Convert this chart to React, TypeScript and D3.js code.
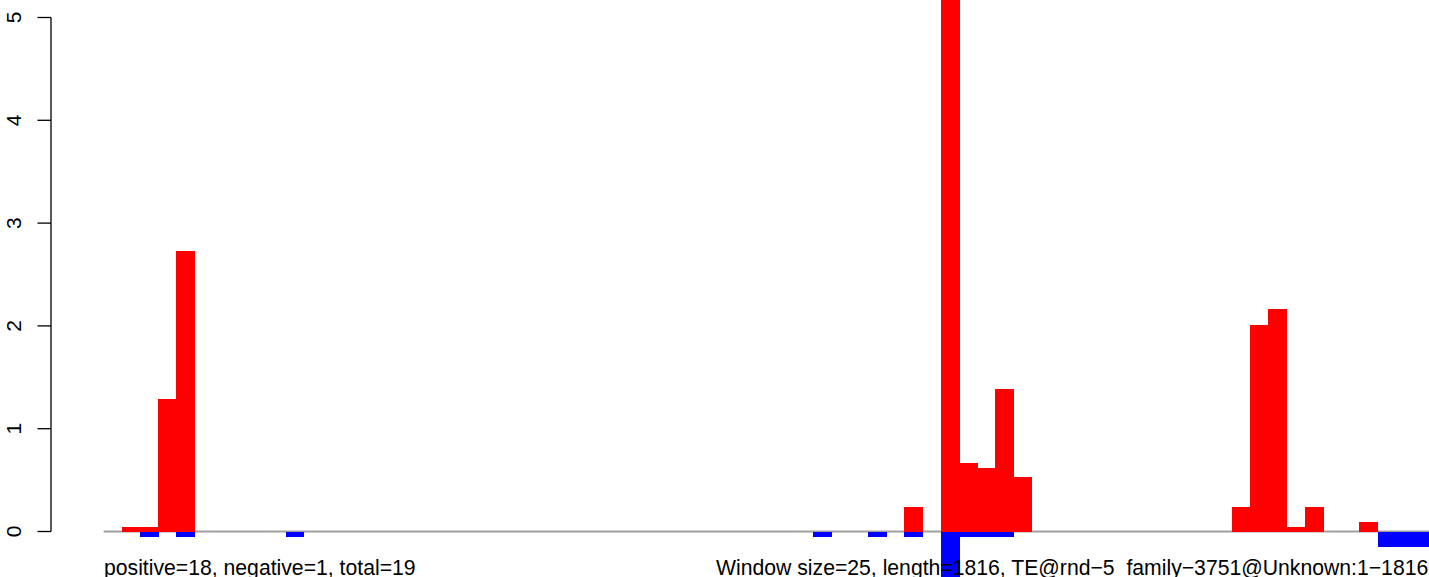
import React from "react";
import * as d3 from "d3";

const WIDTH = 1429;
const HEIGHT = 577;
const windowSize = 25;
const nBins = 73;

// bins (index of 25-bp window) with positive (red) scores
const posBins = [1, 2, 3, 4, 44, 46, 47, 48, 49, 50, 62, 63, 64, 65, 66, 69];
const posValues = [0.04, 0.04, 1.29, 2.73, 0.235, 5.6, 0.67, 0.62, 1.39, 0.53, 0.235, 2.01, 2.16, 0.04, 0.235, 0.09];

// bins with negative (blue) scores, as magnitudes below zero
const negBins = [2, 4, 10, 39, 42, 44, 46, 47, 48, 49, 70, 71, 72];
const negValues = [0.05, 0.05, 0.05, 0.05, 0.05, 0.05, 0.6, 0.05, 0.05, 0.05, 0.15, 0.15, 0.15];

const yTicks = [0, 1, 2, 3, 4, 5];
const leftLabel = "positive=18, negative=1, total=19";
const rightLabel = "Window size=25, length=1816, TE@rnd\u22125_family\u22123751@Unknown:1\u22121816";

const FONT = "'Liberation Sans', Arial, Helvetica, sans-serif";

export default function App() {
  const x = d3.scaleLinear().domain([0, nBins * windowSize]).range([103.6, 103.6 + nBins * 18.2]);
  const y = d3.scaleLinear().domain([0, 5]).range([531.5, 17.5]);
  const y0 = y(0);

  return (
    <svg
      width={WIDTH}
      height={HEIGHT}
      style={{ position: "absolute", left: 0, top: 0, background: "#fff" }}
    >
      <rect x={0} y={0} width={WIDTH} height={HEIGHT} fill="#fff" />
      {/* baseline */}
      <line x1={x(0)} x2={x(nBins * windowSize)} y1={y0} y2={y0} stroke="#a0a0a0" strokeWidth={2} />
      {/* positive bars */}
      <g shapeRendering="crispEdges">
        {posBins.map((b, i) => (
          <rect
            key={"p" + i}
            x={x(b * windowSize)}
            width={x((b + 1) * windowSize) - x(b * windowSize) + 0.6}
            y={y(posValues[i])}
            height={y0 - y(posValues[i])}
            fill="#ff0000"
          />
        ))}
        {/* negative bars */}
        {negBins.map((b, i) => (
          <rect
            key={"n" + i}
            x={x(b * windowSize)}
            width={x((b + 1) * windowSize) - x(b * windowSize) + 0.6}
            y={y0 + 0.5}
            height={y(-negValues[i]) - y0}
            fill="#0000ff"
          />
        ))}
      </g>
      {/* y axis */}
      <line x1={51} x2={51} y1={y(5)} y2={y(0)} stroke="#000" strokeWidth={1.3} />
      {yTicks.map((t) => (
        <g key={t}>
          <line x1={37.5} x2={51} y1={y(t)} y2={y(t)} stroke="#000" strokeWidth={1.3} />
          <text
            transform={`translate(21, ${y(t)}) rotate(-90)`}
            textAnchor="middle"
            fontFamily={FONT}
            fontSize={21}
            fill="#000"
          >
            {t}
          </text>
        </g>
      ))}
      {/* bottom labels */}
      <text x={104} y={575} fontFamily={FONT} fontSize={21.2} fill="#000">
        {leftLabel}
      </text>
      <text x={716} y={575} fontFamily={FONT} fontSize={21.2} fill="#000">
        {rightLabel}
      </text>
    </svg>
  );
}
